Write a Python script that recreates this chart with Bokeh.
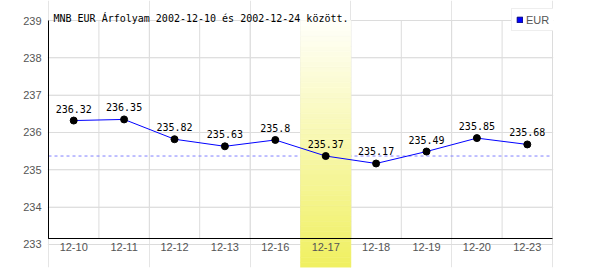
from bokeh.plotting import figure
from bokeh.models import Range1d, FixedTicker, LinearAxis, Legend, LegendItem
from bokeh.core.properties import value
from bokeh.embed import file_html
from bokeh.resources import INLINE

# ---- data ----
dates = ["12-10", "12-11", "12-12", "12-13", "12-16", "12-17", "12-18", "12-19", "12-20", "12-23"]
rates = [236.32, 236.35, 235.82, 235.63, 235.8, 235.37, 235.17, 235.49, 235.85, 235.68]
highlight_date = "12-17"
reference_rate = 235.37
y_ticks = [233, 234, 235, 236, 237, 238, 239]
series_name = "EUR"
title_text = "MNB EUR Árfolyam 2002-12-10 és 2002-12-24 között."

# ---- layout helpers ----
n = len(dates)
xs = [i + 0.5 for i in range(n)]
px_per_x = 50.4
px_per_y = 37.33
x_pad = 1 / px_per_x
y_top = y_ticks[-1] + 20 / px_per_y     # frame reaches the top of the canvas
y_bottom = y_ticks[0] - 23 / px_per_y   # band extends below the axis
axis_base = y_ticks[0] + 5.7 / px_per_y  # black baseline above the 233 grid line

GRID = "#dcdcdc"
MONO = "DejaVu Sans Mono"
SANS = "Liberation Sans"

p = figure(width=600, height=270, output_backend="svg", toolbar_location=None,
           x_range=Range1d(-x_pad, n + x_pad), y_range=Range1d(y_bottom, y_top),
           min_border_left=47, min_border_right=47, min_border_top=0, min_border_bottom=3,
           x_axis_location=None, y_axis_location=None)
p.outline_line_color = None
p.background_fill_color = "white"
p.border_fill_color = "white"

# y axis (labels only)
yaxis = LinearAxis(ticker=FixedTicker(ticks=y_ticks), axis_line_color=None,
                   major_tick_in=0, major_tick_out=0, minor_tick_in=0, minor_tick_out=0,
                   major_label_standoff=6, major_label_text_font=SANS,
                   major_label_text_font_size="11px", major_label_text_color="#555555")
p.add_layout(yaxis, "left")

# x axis fixed at the black baseline
xaxis = LinearAxis(ticker=FixedTicker(ticks=xs),
                   major_label_overrides={x: d for x, d in zip(xs, dates)},
                   fixed_location=axis_base, bounds=(0, n),
                   axis_line_color="black", axis_line_width=1,
                   major_tick_in=0, major_tick_out=0, minor_tick_in=0, minor_tick_out=0,
                   major_label_standoff=4, major_label_text_font=SANS,
                   major_label_text_font_size="11px", major_label_text_color="#555555")
p.add_layout(xaxis, "below")

# grid lines
p.segment(x0=[0] * len(y_ticks), x1=[n] * len(y_ticks), y0=y_ticks, y1=y_ticks,
          line_color=GRID, line_width=1)
vx = list(range(1, n + 1))
p.segment(x0=vx, x1=vx, y0=[axis_base] * (n - 1) + [y_ticks[0]], y1=[y_ticks[-1]] * n,
          line_color=GRID, line_width=1)

# reference dashed line
p.segment(x0=[0], x1=[n], y0=[reference_rate], y1=[reference_rate],
          line_color="#8080ff", line_width=1, line_dash="3 3")

# highlighted day band with vertical gradient
hi = dates.index(highlight_date)
steps = 48
top_c = (255, 255, 250)
bot_c = (240, 240, 96)
lefts, rights, bottoms, tops, cols = [], [], [], [], []
span = y_ticks[-1] - y_bottom
for k in range(steps):
    t = (k + 0.5) / steps
    b = y_bottom + span * k / steps
    tp = y_bottom + span * (k + 1) / steps
    c = tuple(round(bot_c[j] + (top_c[j] - bot_c[j]) * t) for j in range(3))
    lefts.append(hi); rights.append(hi + 1)
    bottoms.append(b); tops.append(tp)
    cols.append("#%02x%02x%02x" % c)
p.quad(left=lefts, right=rights, bottom=bottoms, top=tops,
       fill_color=cols, line_color=cols, line_width=0.6)

# black left axis line
p.segment(x0=[0], x1=[0], y0=[axis_base], y1=[y_ticks[-1]], line_color="black", line_width=1)

# title
p.text(x=[0], y=[y_ticks[-1]], text=[title_text], x_offset=5, y_offset=-2,
       text_align="left", text_baseline="alphabetic",
       text_font=value(MONO), text_font_size="10px", text_color="black")

# series
p.line(xs, rates, line_color="#0000ff", line_width=1)
p.scatter(xs, rates, size=7, fill_color="black", line_color="black")
p.text(x=xs, y=rates, text=[str(v) for v in rates], y_offset=-12,
       text_align="center", text_baseline="alphabetic",
       text_font=value(MONO), text_font_size="10px", text_color="black")

# legend swatch (a single invisible NaN quad so the legend draws its glyph)
nan = float("nan")
swatch = p.quad(left=[nan], right=[nan], bottom=[nan], top=[nan],
                fill_color="#0000ff", line_color="#000080", line_width=1)
legend = Legend(items=[LegendItem(label=series_name, renderers=[swatch])],
                location=(464, 236), padding=4, margin=0, spacing=0,
                glyph_width=7, glyph_height=7, label_standoff=3,
                label_height=13, label_width=24,
                label_text_font=SANS, label_text_font_size="11px",
                label_text_color="#555555", border_line_color="#dddddd",
                border_line_width=1, background_fill_color="white", background_fill_alpha=1)
p.add_layout(legend, "center")

open("out.html", "w").write(file_html(p, INLINE))
